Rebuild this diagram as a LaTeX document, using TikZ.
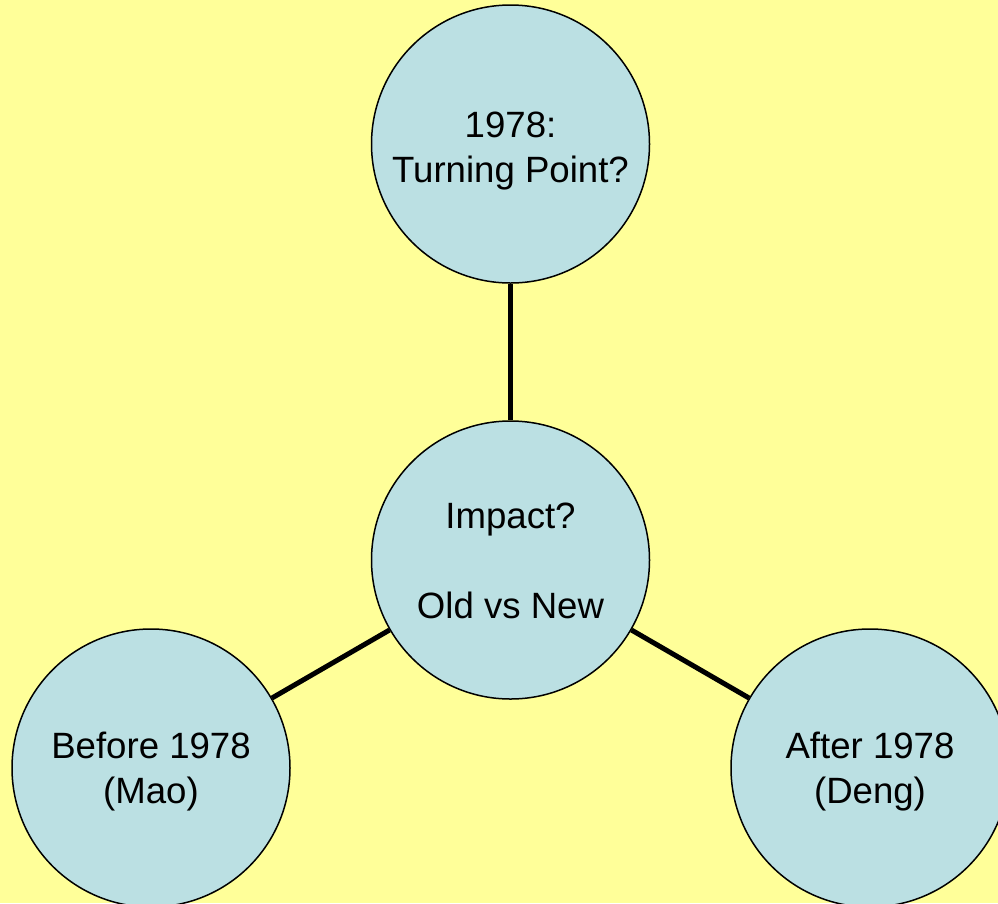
\documentclass[tikz,border=0pt]{standalone}
\usepackage{fontspec}
\setmainfont{Liberation Sans}
\definecolor{bgyellow}{RGB}{255,255,153}
\definecolor{circfill}{RGB}{187,224,227}
\begin{document}
\begin{tikzpicture}[x=1pt,y=-1pt,
  bubble/.style={circle,draw=black,line width=1.5pt,fill=circfill,minimum size=278pt,inner sep=0pt},
  txt/.style={anchor=base,inner sep=0pt,font=\fontsize{36.6}{45}\selectfont},
  link/.style={draw=black,line width=5pt}]
\useasboundingbox (0,0) rectangle (998,903);
\clip (0,0) rectangle (998,903);
\fill[bgyellow] (0,0) rectangle (998,903);
\node[bubble] (top) at (510.5,144) {};
\node[bubble] (mid) at (510.5,560) {};
\node[bubble] (left) at (151,768) {};
\node[bubble] (right) at (870,768) {};
\draw[link] (top) -- (mid);
\draw[link] (mid) -- (left);
\draw[link] (mid) -- (right);
\node[txt] (t1) at (510.5,137) {1978:};
\node[txt] (t2) at (510.5,182) {Turning Point?};
\node[txt] (m1) at (510.5,528) {Impact?};
\node[txt] (m2) at (510.5,618) {Old vs New};
\node[txt] (l1) at (151,758) {Before 1978};
\node[txt] (l2) at (151,803) {(Mao)};
\node[txt] (r1) at (870,758) {After 1978};
\node[txt] (r2) at (870,803) {(Deng)};
\end{tikzpicture}
\end{document}
